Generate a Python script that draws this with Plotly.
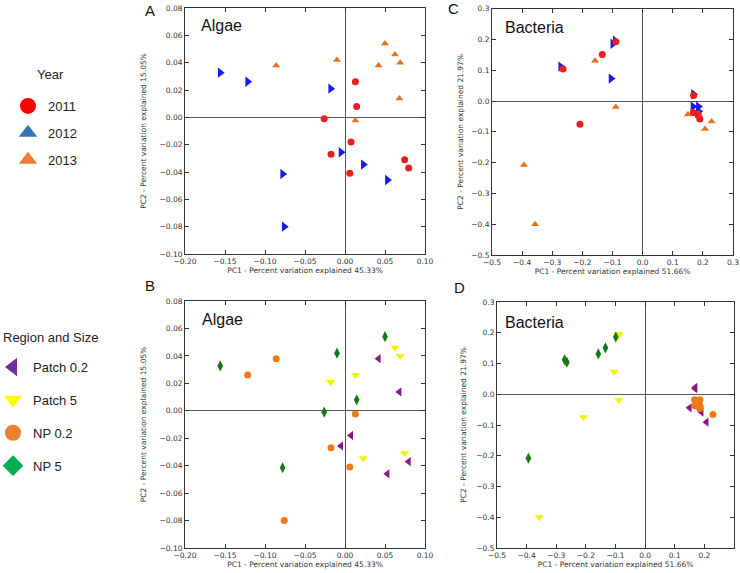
import plotly.graph_objects as go

# Algae PCoA scores (same samples in panels A and B)
algae_pc1 = [-0.086, -0.010, 0.050, 0.0625, 0.069, 0.042, 0.068, 0.013,
             0.013, 0.0146, -0.026, 0.0075, -0.0175, 0.006, 0.0746, 0.0796,
             -0.156, -0.1217, -0.018, -0.005, 0.0229, 0.053, -0.078, -0.076]
algae_pc2 = [0.038, 0.042, 0.054, 0.046, 0.040, 0.038, 0.0137, -0.0024,
             0.026, 0.008, -0.001, -0.018, -0.027, -0.041, -0.031, -0.037,
             0.0327, 0.026, 0.021, -0.0256, -0.0346, -0.0459, -0.0415, -0.080]
algae_year = ["2013"] * 8 + ["2011"] * 8 + ["2012"] * 8
algae_group = ["NP 0.2", "NP 5", "NP 5", "Patch 5", "Patch 5", "Patch 0.2", "Patch 0.2", "NP 0.2",
               "Patch 5", "NP 5", "NP 5", "Patch 0.2", "NP 0.2", "NP 0.2", "Patch 5", "Patch 0.2",
               "NP 5", "NP 0.2", "Patch 5", "Patch 0.2", "Patch 5", "Patch 0.2", "NP 5", "NP 0.2"]

# Bacteria PCoA scores (same samples in panels C and D)
bact_pc1 = [-0.264, -0.134, -0.089, -0.208, 0.169, 0.190, 0.168, 0.184,
            -0.272, -0.099, -0.091, -0.105, 0.169, 0.186, 0.167, 0.185,
            -0.158, -0.394, -0.357, -0.089, 0.150, 0.207, 0.229, 0.186]
bact_pc2 = [0.104, 0.151, 0.193, -0.075, 0.018, -0.058, -0.037, -0.046,
            0.112, 0.186, 0.196, 0.073, 0.022, -0.034, -0.018, -0.018,
            0.131, -0.208, -0.400, -0.019, -0.044, -0.091, -0.066, -0.040]
bact_year = ["2011"] * 8 + ["2012"] * 8 + ["2013"] * 8
bact_group = ["NP 5", "NP 5", "Patch 5", "Patch 5", "Patch 0.2", "Patch 0.2", "NP 0.2", "NP 0.2",
              "NP 5", "NP 5", "Patch 5", "Patch 5", "Patch 0.2", "Patch 0.2", "NP 0.2", "NP 0.2",
              "NP 5", "NP 5", "Patch 5", "Patch 5", "Patch 0.2", "Patch 0.2", "NP 0.2", "NP 0.2"]

years = ["2011", "2012", "2013"]
groups = ["Patch 0.2", "Patch 5", "NP 0.2", "NP 5"]

# plot markers vs. legend markers (the legend in the figure uses different glyphs)
year_marker = {
    "2012": dict(symbol="triangle-right", color="#1a1ae6", size=9),
    "2013": dict(symbol="triangle-up", color="#e8721c", size=7),
    "2011": dict(symbol="circle", color="#ee1c1c", size=7),
}
year_legend = {
    "2011": dict(symbol="circle", color="#ff0000", size=16),
    "2012": dict(symbol="triangle-up", color="#2e75b6", size=16),
    "2013": dict(symbol="triangle-up", color="#ed7d31", size=16),
}
group_marker = {
    "Patch 0.2": dict(symbol="triangle-left", color="#8b168b", size=8),
    "Patch 5": dict(symbol="triangle-down", color="#f2f20a", size=8),
    "NP 0.2": dict(symbol="circle", color="#f07818", size=7),
    "NP 5": dict(symbol="diamond-tall", color="#137a13", size=8),
}
group_legend = {
    "Patch 0.2": dict(symbol="triangle-left", color="#7030a0", size=16),
    "Patch 5": dict(symbol="triangle-down", color="#ffff00", size=16),
    "NP 0.2": dict(symbol="circle", color="#ed7d31", size=16),
    "NP 5": dict(symbol="diamond", color="#00b050", size=16),
}

fig = go.Figure()


def add_points(xs, ys, labels, styles, xa, ya, order):
    for key in order:
        px_ = [x for x, l in zip(xs, labels) if l == key]
        py_ = [y for y, l in zip(ys, labels) if l == key]
        fig.add_trace(go.Scatter(
            x=px_, y=py_, mode="markers", xaxis=xa, yaxis=ya,
            marker=dict(line=dict(width=0), **styles[key]),
            showlegend=False, hoverinfo="skip",
        ))


add_points(algae_pc1, algae_pc2, algae_year, year_marker, "x", "y", ["2012", "2013", "2011"])
add_points(bact_pc1, bact_pc2, bact_year, year_marker, "x2", "y2", ["2012", "2013", "2011"])
add_points(algae_pc1, algae_pc2, algae_group, group_marker, "x3", "y3", groups)
add_points(bact_pc1, bact_pc2, bact_group, group_marker, "x4", "y4", groups)

# legend-only entries
for yr in years:
    fig.add_trace(go.Scatter(x=[None], y=[None], mode="markers", name=yr,
                             marker=year_legend[yr], legend="legend", legendgroup=yr))
for g in groups:
    fig.add_trace(go.Scatter(x=[None], y=[None], mode="markers", name=g,
                             marker=group_legend[g], legend="legend2", legendgroup=g))

W, H = 740, 573


def fx(px):
    return px / W


def fy(py):
    return 1 - py / H


tick_font = dict(family="DejaVu Sans", size=7.5, color="#333")
title_font = dict(family="DejaVu Sans", size=7.5, color="#333")


def axis(domain, anchor, rng, dtick, fmt, title, standoff):
    return dict(
        domain=domain, anchor=anchor, range=rng, dtick=dtick, tick0=0,
        tickformat=fmt, showgrid=False, zeroline=True, zerolinecolor="#555",
        zerolinewidth=1, showline=True, linecolor="#333", linewidth=1,
        mirror="ticks", ticks="inside", ticklen=4, tickcolor="#333",
        tickfont=tick_font, title=dict(text=title, font=title_font, standoff=standoff),
        automargin=False,
    )


xa_algae = "PC1 - Percent variation explained 45.33%"
ya_algae = "PC2 - Percent variation explained 15.05%"
xa_bact = "PC1 - Percent variation explained 51.66%"
ya_bact = "PC2 - Percent variation explained 21.97%"

legend_font = dict(family="Liberation Sans", size=13, color="#222")

fig.update_layout(
    width=W, height=H,
    margin=dict(l=0, r=0, t=0, b=0, autoexpand=False),
    paper_bgcolor="white", plot_bgcolor="white",
    xaxis=axis([fx(185), fx(425)], "y", [-0.20, 0.10], 0.05, ".2f", xa_algae, 1),
    yaxis=axis([fy(254), fy(8)], "x", [-0.10, 0.08], 0.02, ".2f", ya_algae, 11),
    xaxis2=axis([fx(492), fx(733)], "y2", [-0.5, 0.3], 0.1, ".1f", xa_bact, 1),
    yaxis2=axis([fy(255), fy(8.7)], "x2", [-0.5, 0.3], 0.1, ".1f", ya_bact, 6),
    xaxis3=axis([fx(185), fx(425)], "y3", [-0.20, 0.10], 0.05, ".2f", xa_algae, 1),
    yaxis3=axis([fy(548), fy(301)], "x3", [-0.10, 0.08], 0.02, ".2f", ya_algae, 11),
    xaxis4=axis([fx(497), fx(734)], "y4", [-0.5, 0.3], 0.1, ".1f", xa_bact, 1),
    yaxis4=axis([fy(548), fy(302)], "x4", [-0.5, 0.3], 0.1, ".1f", ya_bact, 8),
    legend=dict(
        x=fx(8), y=fy(91), xanchor="left", yanchor="top",
        font=legend_font, tracegroupgap=7, bgcolor="rgba(0,0,0,0)", itemsizing="trace",
    ),
    legend2=dict(
        x=fx(-7), y=fy(352), xanchor="left", yanchor="top",
        font=legend_font, tracegroupgap=13, bgcolor="rgba(0,0,0,0)", itemsizing="trace",
    ),
)

# legend headings
fig.add_annotation(text="Year", x=fx(50), y=fy(75), xref="paper", yref="paper",
                   xanchor="center", yanchor="middle", showarrow=False, font=legend_font)
fig.add_annotation(text="Region and Size", x=fx(1), y=fy(337), xref="paper", yref="paper",
                   xanchor="left", yanchor="middle", showarrow=False, font=legend_font)

# panel letters
for txt, px_, py_ in [("A", 150, 10), ("B", 150, 285), ("C", 453, 9), ("D", 459, 287)]:
    fig.add_annotation(text=txt, x=fx(px_), y=fy(py_), xref="paper", yref="paper",
                       xanchor="center", yanchor="middle", showarrow=False,
                       font=dict(family="Liberation Sans", size=15, color="#111"))

# organism names inside each panel: (text, axes, px from left edge, px below top edge)
for txt, xa, ya, dx, dy, w, h in [("Algae", "x", "y", 14, 18, 240, 246),
                                  ("Bacteria", "x2", "y2", 11, 19, 241, 246),
                                  ("Algae", "x3", "y3", 15, 18, 240, 247),
                                  ("Bacteria", "x4", "y4", 6, 20, 237, 246)]:
    fig.add_annotation(text=txt, x=dx / w, y=1 - dy / h, xref=f"{xa} domain", yref=f"{ya} domain",
                       xanchor="left", yanchor="middle", showarrow=False,
                       font=dict(family="Liberation Sans", size=16, color="#111"))

fig.write_html("out.html", config={"displayModeBar": False},
               post_script="document.body.style.margin = '0';")
